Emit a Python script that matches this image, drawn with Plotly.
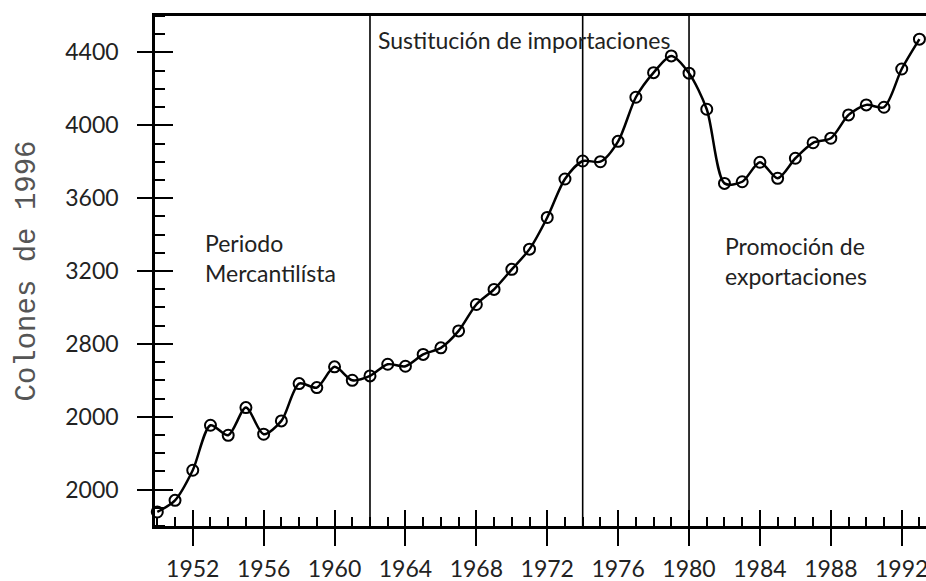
import plotly.graph_objects as go

years = list(range(1950, 1994))
values = [1877, 1941, 2106, 2353, 2298, 2450, 2304, 2377, 2582, 2560,
          2674, 2600, 2624, 2688, 2677, 2742, 2778, 2871, 3016, 3099,
          3209, 3320, 3494, 3705, 3804, 3800, 3912, 4154, 4289, 4381,
          4286, 4088, 3681, 3690, 3797, 3709, 3819, 3904, 3929, 4057,
          4112, 4099, 4309, 4473]

x_major = list(range(1952, 1993, 4))
x_minor = list(range(1950, 1994))
y_major = [2000, 2400, 2800, 3200, 3600, 4000, 4400]
y_ticktext = ["2000", "2000", "2800", "3200", "3600", "4000", "4400"]
y_minor = list(range(1800, 4601, 100))
period_breaks = [1962, 1974, 1980]
period_labels = ["Periodo<br>Mercantilísta", "Sustitución de importaciones",
                 "Promoción de<br>exportaciones"]
label_x = [1952.6, 1962.34, 1981.9]
label_y = [3270, 4467, 3254]

x_range = [1949.87, 1993.37]
y_range = [1800, 4600]

FONT = "Lato"
INK = "#000000"
TXT = "#222222"

fig = go.Figure()

for b in period_breaks:
    fig.add_trace(go.Scatter(x=[b, b], y=y_range, mode="lines",
                             line=dict(color=INK, width=1.6),
                             hoverinfo="skip", showlegend=False))

fig.add_trace(go.Scatter(
    x=years, y=values, mode="lines+markers",
    line=dict(color=INK, width=2.5, shape="spline", smoothing=0.8),
    marker=dict(symbol="circle-open", size=11, color=INK, line=dict(width=2)),
    showlegend=False, cliponaxis=False))

# invisible helper trace for the overlay axes (inner half of major ticks)
fig.add_trace(go.Scatter(x=[x_range[0]], y=[y_range[0]], xaxis="x2", yaxis="y2",
                         mode="markers", marker=dict(opacity=0), showlegend=False,
                         hoverinfo="skip"))

for t, xx, yy in zip(period_labels, label_x, label_y):
    fig.add_annotation(x=xx, y=yy, xref="x", yref="y", text=t, showarrow=False,
                       xanchor="left", yanchor="middle", align="left",
                       font=dict(family=FONT, size=23, color=TXT))

fig.update_layout(
    width=926, height=581,
    margin=dict(l=155, r=0, t=16, b=55),
    paper_bgcolor="white", plot_bgcolor="white",
    xaxis=dict(range=x_range, tickmode="array", tickvals=x_major,
               ticktext=[str(v) for v in x_major], automargin=False,
               ticklabeloverflow="allow",
               ticks="outside", ticklen=17, tickwidth=2, tickcolor=INK,
               showline=True, linewidth=2.5, linecolor=INK, mirror=True,
               showgrid=False, zeroline=False, ticklabelstandoff=4,
               tickfont=dict(family=FONT, size=23, color=TXT),
               minor=dict(tickmode="array", tickvals=x_minor, ticks="inside",
                          ticklen=9, tickwidth=2, tickcolor=INK, showgrid=False)),
    yaxis=dict(range=y_range, tickmode="array", tickvals=y_major,
               ticktext=y_ticktext, automargin=False,
               ticks="outside", ticklen=15, tickwidth=2, tickcolor=INK,
               showline=True, linewidth=2.5, linecolor=INK, mirror=False,
               showgrid=False, zeroline=False, ticklabelstandoff=14,
               tickfont=dict(family=FONT, size=23, color=TXT),
               title=dict(text="Colones de 1996", standoff=22,
                          font=dict(family="Liberation Mono", size=29, color="#555555")),
               minor=dict(tickmode="array", tickvals=y_minor, ticks="inside",
                          ticklen=10, tickwidth=2, tickcolor=INK, showgrid=False)),
    xaxis2=dict(range=x_range, overlaying="x", anchor="y", side="bottom",
                tickmode="array", tickvals=x_major, ticks="inside", ticklen=16,
                tickwidth=2, tickcolor=INK, showticklabels=False, showline=False,
                showgrid=False, zeroline=False, automargin=False),
    yaxis2=dict(range=y_range, overlaying="y", anchor="x", side="left",
                tickmode="array", tickvals=y_major, ticks="inside", ticklen=18,
                tickwidth=2, tickcolor=INK, showticklabels=False, showline=False,
                showgrid=False, zeroline=False, automargin=False),
)

fig.write_html("out.html", config={"displayModeBar": False},
               post_script="document.body.style.margin='0';")
